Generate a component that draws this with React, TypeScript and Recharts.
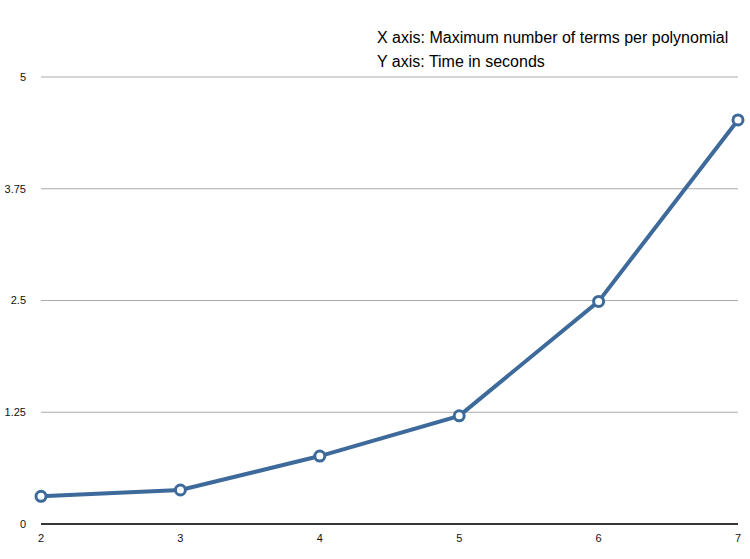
import React from "react";
import { LineChart, Line, XAxis, YAxis, CartesianGrid } from "recharts";

const terms = [2, 3, 4, 5, 6, 7];
const seconds = [0.31, 0.38, 0.76, 1.21, 2.49, 4.52];
const yTicks = [0, 1.25, 2.5, 3.75, 5];
const legendLines = [
  "X axis: Maximum number of terms per polynomial",
  "Y axis: Time in seconds",
];

const data = terms.map((t, i) => ({ terms: t, seconds: seconds[i] }));

const FONT = '"Liberation Sans", Arial, Helvetica, sans-serif';

export default function App() {
  return (
    <div style={{ position: "absolute", left: 0, top: 0, width: 750, height: 559, background: "#fff", fontFamily: FONT }}>
      <LineChart width={750} height={559} data={data} margin={{ top: 77, right: 12, bottom: 0, left: 0 }}>
        <CartesianGrid horizontal vertical={false} stroke="#aaaaaa" strokeWidth={1} />
        <XAxis
          dataKey="terms"
          type="number"
          domain={[2, 7]}
          ticks={terms}
          height={35}
          axisLine={{ stroke: "#000", strokeWidth: 1.5 }}
          tickLine={false}
          tickMargin={4}
          tick={{ fontSize: 11, fill: "#111", fontFamily: FONT }}
        />
        <YAxis
          type="number"
          domain={[0, 5]}
          ticks={yTicks}
          width={41}
          axisLine={false}
          tickLine={false}
          tickMargin={9}
          tick={{ fontSize: 11, fill: "#111", fontFamily: FONT }}
        />
        <Line
          type="linear"
          dataKey="seconds"
          stroke="#3d6a9b"
          strokeWidth={4}
          dot={{ r: 5, fill: "#fff", stroke: "#3d6a9b", strokeWidth: 3 }}
          isAnimationActive={false}
        />
      </LineChart>
      <div style={{ position: "absolute", left: 377, top: 26, fontSize: 16, lineHeight: "24px", color: "#000", fontFamily: FONT }}>
        {legendLines.map((l) => (
          <div key={l}>{l}</div>
        ))}
      </div>
    </div>
  );
}
